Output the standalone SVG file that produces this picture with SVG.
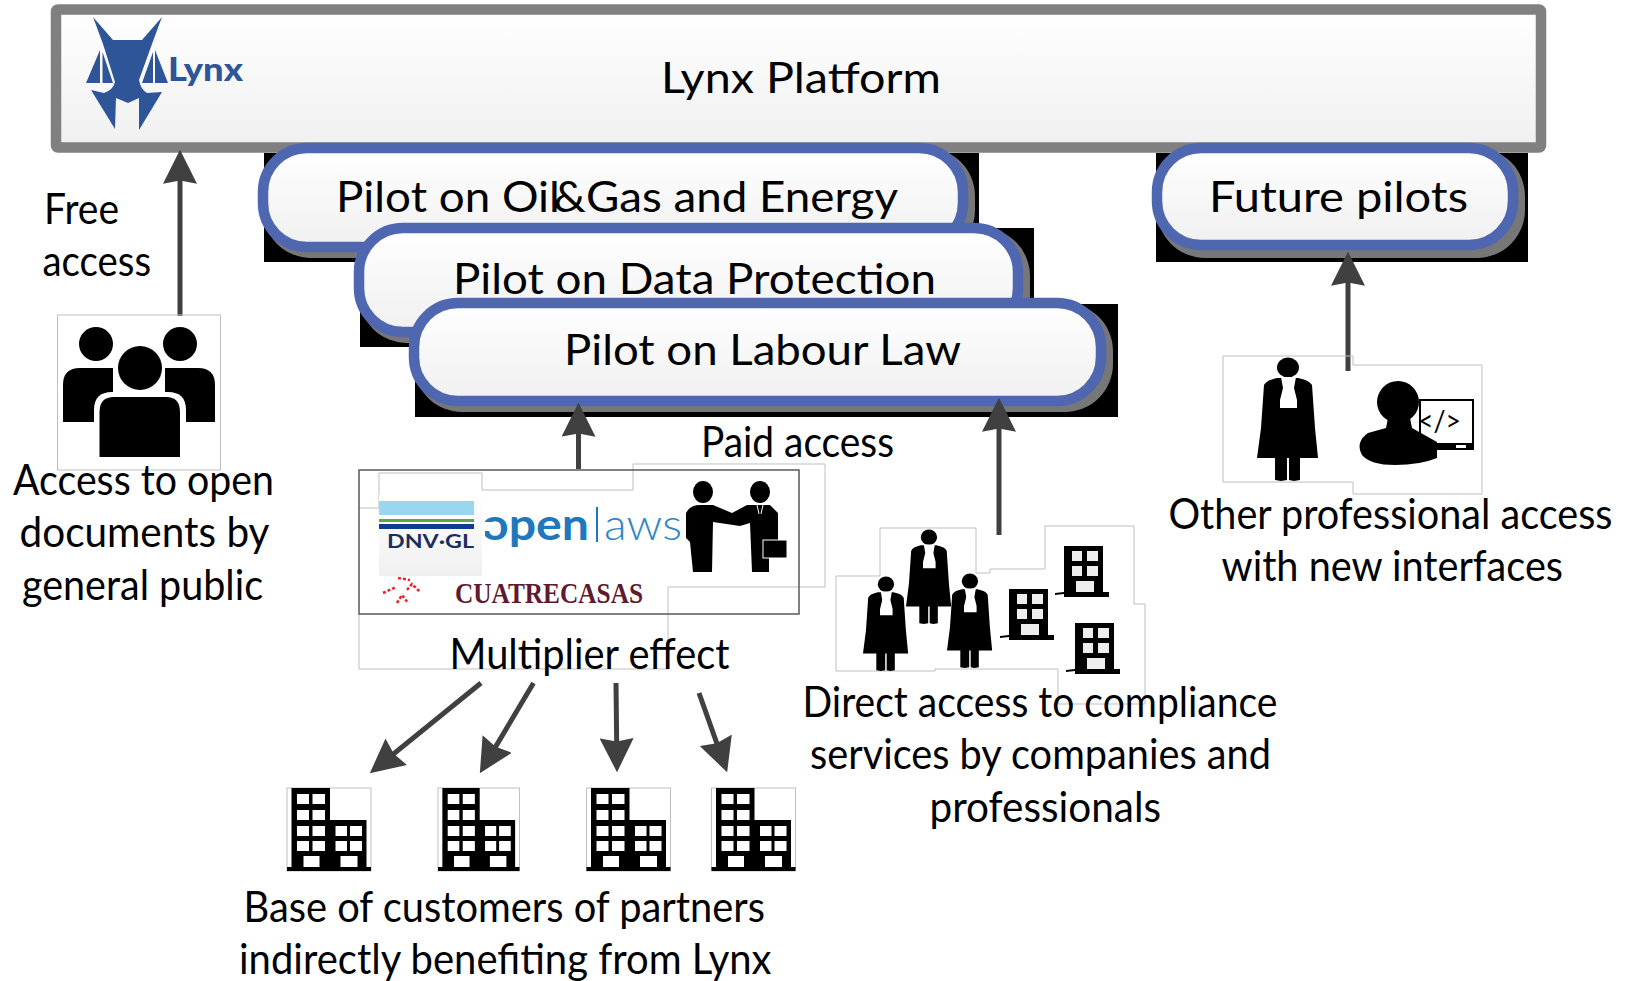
<svg xmlns="http://www.w3.org/2000/svg" xmlns:xlink="http://www.w3.org/1999/xlink" width="1629" height="981" viewBox="0 0 1629 981">
<style>
.t{font-family:"Lato","Noto Sans",sans-serif;font-size:42px;fill:#000}
.pill{stroke:#4F67B0;stroke-width:10.5;fill:url(#g)}
.shadow{fill:#777}
.thin{fill:none;stroke:#bfbfbf;stroke-width:1}
.arrow{stroke:#404040;stroke-width:5;fill:none;marker-end:url(#head)}
.ic{fill:#000}
.wh{fill:#fff}
</style>
<defs>
<linearGradient id="g" x1="0" y1="0" x2="0" y2="1"><stop offset="0" stop-color="#fff"/><stop offset="1" stop-color="#f0f0f0"/></linearGradient>
<marker id="head" markerUnits="userSpaceOnUse" markerWidth="34" markerHeight="34" viewBox="0 0 33 33" refX="23" refY="16.5" orient="auto"><path d="M33 16.5L0 33L3 16.5L0 0Z" fill="#404040"/></marker>
<clipPath id="oc"><rect x="485" y="490" width="110" height="70"/></clipPath>
<g id="judge">
<path class="ic" d="M7 27Q10 22 20 20L41 20Q52 22 55 27L58 70L61 100L0 100L4 70Z"/>
<path class="ic" d="M18 98H30V122L24 123L18 122ZM32 98H43V122L37 123L32 122Z"/>
<ellipse class="ic" cx="31" cy="9.500" rx="11" ry="10"/>
<path class="wh" d="M24 19H39L37 30L40 42V50H23V42L26 30Z"/>
</g>
<g id="small">
<path class="ic" d="M9 0H48V46H54V51H9V48L0 49V47L9 46Z"/>
<path fill="#eee" d="M17 5H27V15H17ZM32 5H43V15H32ZM17 20H27V30H17ZM32 20H43V30H32ZM21 35H39V46H21Z"/>
</g>
<g id="big">
<rect class="thin" x="0" y="0" width="84" height="83"/>
<path class="ic" d="M4.500 0H43V32H79.500V79H84V83H0V79H4.500Z"/>
<path class="wh" d="M10 6H22V16H10ZM25.500 6H38V16H25.500ZM10 22H22V32H10ZM25.500 22H38V32H25.500ZM10 38H22V48H10ZM25.500 38H38V48H25.500ZM10 53H22V63H10ZM25.500 53H38V63H25.500ZM48.500 38H60V48H48.500ZM63 38H75V48H63ZM48.500 53H60V63H48.500ZM63 53H75V63H63ZM16.500 68H32.500V79H16.500ZM53.500 68H70.500V79H53.500Z"/>
</g>
</defs>
<rect width="1629" height="981" fill="#fff"/>

<g id="platform">
<rect x="56" y="9.500" width="1485" height="138" rx="2" fill="url(#g)" stroke="#808080" stroke-width="10.500"/>
<text class="t" x="661" y="93" textLength="280" lengthAdjust="spacingAndGlyphs">Lynx Platform</text>
</g>
<g id="lynx-logo" fill="#2E5597">
<path d="M93 17L113 40H142L162 17L152 44L139 80Q141 90 147 93L162 92L139 130V98L128 103L116 98L115 129L91 90L104 93Q113 90 115 82L103 44Z"/>
<path d="M100 50L86 83H100ZM102.500 52V83H113ZM155 50L168 83H155ZM153 52V83H142Z"/>
<text x="168" y="81" font-family="Lato,sans-serif" font-weight="900" font-size="32" textLength="75" lengthAdjust="spacingAndGlyphs">Lynx</text>
</g>

<g id="pilot-backdrops" fill="#000">
<rect x="264" y="153" width="715" height="109"/>
<rect x="360" y="228" width="674" height="119"/>
<rect x="415" y="304" width="703" height="113"/>
<rect x="1156" y="153" width="372" height="109"/>
</g>

<g id="pilot-oilgas">
<rect class="shadow" x="263" y="148" width="712" height="110" rx="48"/>
<rect class="pill" x="263" y="148" width="700" height="99" rx="44"/>
<text class="t" x="336" y="212" textLength="562" lengthAdjust="spacingAndGlyphs">Pilot on Oil<tspan dx="-6">&amp;</tspan>Gas and Energy</text>
</g>
<g id="pilot-data">
<rect class="shadow" x="359" y="228" width="671" height="115" rx="48"/>
<rect class="pill" x="359" y="228" width="659" height="104" rx="44"/>
<text class="t" x="453" y="294" textLength="483" lengthAdjust="spacingAndGlyphs">Pilot on Data Protection</text>
</g>
<g id="pilot-labour">
<rect class="shadow" x="414" y="303" width="699" height="109" rx="48"/>
<rect class="pill" x="414" y="303" width="687" height="98" rx="44"/>
<text class="t" x="564" y="365" textLength="397" lengthAdjust="spacingAndGlyphs">Pilot on Labour Law</text>
</g>
<g id="pilot-future">
<rect class="shadow" x="1157" y="148" width="368" height="110" rx="48"/>
<rect class="pill" x="1157" y="148" width="356" height="97" rx="44"/>
<text class="t" x="1209" y="212" textLength="259" lengthAdjust="spacingAndGlyphs">Future pilots</text>
</g>

<g id="connectors">
<path class="arrow" d="M180 316V160"/>
<path class="arrow" d="M578.500 469V413"/>
<path class="arrow" d="M999 535V408"/>
<path class="arrow" d="M1348 371V262"/>
<path class="arrow" d="M481 683L377.800 766.700"/>
<path class="arrow" d="M533.500 683L485.100 764.400"/>
<path class="arrow" d="M616 683L616.900 762"/>
<path class="arrow" d="M699 693L723.700 762.600"/>
</g>

<g id="free-access">
<text class="t" x="44" y="224" textLength="75" lengthAdjust="spacingAndGlyphs">Free</text>
<text class="t" x="42.500" y="276" textLength="108.500" lengthAdjust="spacingAndGlyphs">access</text>
</g>
<g id="public">
<rect class="thin" x="57.500" y="315" width="163" height="155"/>
<path class="ic" d="M63 385Q63 368 80 368H113V422H63ZM215 385Q215 368 198 368H165V422H215Z"/>
<ellipse class="ic" cx="96" cy="344" rx="17" ry="17"/>
<ellipse class="ic" cx="180" cy="344" rx="17" ry="17"/>
<path class="wh" d="M94 457V410Q94 392 112 392H168Q186 392 186 410V457Z"/>
<ellipse class="wh" cx="140" cy="368" rx="25" ry="24"/>
<ellipse class="ic" cx="140" cy="368" rx="22" ry="22"/>
<path class="ic" d="M99.500 457V412Q99.500 397 114 397H166Q180 397 180 412V457Z"/>
<text class="t" x="13" y="495" textLength="261" lengthAdjust="spacingAndGlyphs">Access to open</text>
<text class="t" x="19.500" y="547" textLength="250" lengthAdjust="spacingAndGlyphs">documents by</text>
<text class="t" x="22" y="600" textLength="241" lengthAdjust="spacingAndGlyphs">general public</text>
</g>

<g id="partners">
<text class="t" x="701" y="457" textLength="193" lengthAdjust="spacingAndGlyphs">Paid access</text>
<path class="thin" d="M359 508H379V473H482V490H633V464H825V587H668V669H359V614"/>
<rect x="359" y="470" width="440" height="144" fill="none" stroke="#595959" stroke-width="1.500"/>
<rect x="379" y="495" width="103" height="81" fill="url(#g)"/>
<rect x="379" y="501" width="95" height="14" fill="#99D6F0"/>
<rect x="379" y="519" width="95" height="3" fill="#5CA845"/>
<rect x="379" y="524" width="95" height="5" fill="#0F3C8F"/>
<text x="387" y="548" font-family="Lato,sans-serif" font-weight="700" font-size="18" fill="#1B2F5E" textLength="87" lengthAdjust="spacingAndGlyphs">DNV·GL</text>
<text x="481" y="540" font-family="Lato,sans-serif" font-weight="700" font-size="44" fill="#1F78BD" clip-path="url(#oc)" textLength="108" lengthAdjust="spacingAndGlyphs">open</text>
<rect x="483" y="522" width="9" height="9" fill="#fff"/>
<rect x="596" y="507" width="2" height="35" fill="#1F78BD"/>
<text x="604" y="540" font-family="Lato,sans-serif" font-weight="300" font-size="44" fill="#2F86C8" textLength="78" lengthAdjust="spacingAndGlyphs">aws</text>
<path class="ic" d="M686 513Q690 505 700 505H713L732 513L747 505H770L778 513V540H769V572H752L750 523L740 526L713 522L712 572H693L690 542L686 538Z"/>
<ellipse class="ic" cx="703" cy="492" rx="10" ry="11"/>
<ellipse class="ic" cx="760" cy="492" rx="10" ry="11"/>
<path d="M757 505L759 514M763 505L761 514" stroke="#fff" stroke-width="1"/>
<rect x="763" y="540" width="24" height="18" fill="#000" stroke="#fff" stroke-width="1"/>
<path d="M383 593L396 587M398 578L410 580M407 590L412 584L420 592M397 603L402 595L408 603" fill="none" stroke="#E8242A" stroke-width="2.500" stroke-dasharray="3 2"/>
<text x="455" y="603" font-family="Liberation Serif,serif" font-weight="700" font-size="30" fill="#5E1A2E" textLength="188" lengthAdjust="spacingAndGlyphs">CUATRECASAS</text>
<text class="t" x="449.500" y="669" textLength="280" lengthAdjust="spacingAndGlyphs">Multiplier effect</text>
</g>

<g id="customers">
<use xlink:href="#big" href="#big" transform="translate(287 788)"/>
<use xlink:href="#big" href="#big" transform="translate(438 788) scale(.97 1)"/>
<use xlink:href="#big" href="#big" transform="translate(586.500 788)"/>
<use xlink:href="#big" href="#big" transform="translate(711.500 788)"/>
<text class="t" x="243.500" y="922" textLength="521.500" lengthAdjust="spacingAndGlyphs">Base of customers of partners</text>
<text class="t" x="239" y="974" textLength="532.500" lengthAdjust="spacingAndGlyphs">indirectly benefiting from Lynx</text>
</g>

<g id="direct">
<path class="thin" d="M836 576H880V528H976V573H990V569H1045V526H1134V604H1145V704H1058V669H935V671H836Z"/>
<use xlink:href="#judge" href="#judge" transform="translate(906 530) scale(.74 .764)"/>
<use xlink:href="#judge" href="#judge" transform="translate(863 577) scale(.74 .764)"/>
<use xlink:href="#judge" href="#judge" transform="translate(947 574) scale(.74 .764)"/>
<use xlink:href="#small" href="#small" transform="translate(1000 589)"/>
<use xlink:href="#small" href="#small" transform="translate(1055 546)"/>
<use xlink:href="#small" href="#small" transform="translate(1066 623)"/>
<text class="t" x="802.500" y="717" textLength="475" lengthAdjust="spacingAndGlyphs">Direct access to compliance</text>
<text class="t" x="810" y="769" textLength="461" lengthAdjust="spacingAndGlyphs">services by companies and</text>
<text class="t" x="929.500" y="822" textLength="231.500" lengthAdjust="spacingAndGlyphs">professionals</text>
</g>

<g id="other-professional">
<path class="thin" d="M1223 356H1353V365H1482V494H1353V482H1223Z"/>
<use xlink:href="#judge" href="#judge" transform="translate(1257 358)"/>
<path class="ic" d="M1419 399H1474V450H1419Z"/>
<rect x="1421" y="401" width="51" height="42" fill="#fff"/>
<rect x="1456" y="445" width="10" height="3" fill="#fff"/>
<ellipse class="ic" cx="1398" cy="402" rx="21" ry="21"/>
<path class="ic" d="M1388 418H1410L1412 428L1437 442V458Q1420 465 1395 465Q1370 465 1362 455Q1355 442 1368 433L1386 428Z"/>
<text x="1418" y="431" font-family="Lato,sans-serif" font-size="28" fill="#000" textLength="43" lengthAdjust="spacingAndGlyphs">&lt;/&gt;</text>
<text class="t" x="1168.500" y="529" textLength="444" lengthAdjust="spacingAndGlyphs">Other professional access</text>
<text class="t" x="1221.500" y="581" textLength="341.500" lengthAdjust="spacingAndGlyphs">with new interfaces</text>
</g>
</svg>
